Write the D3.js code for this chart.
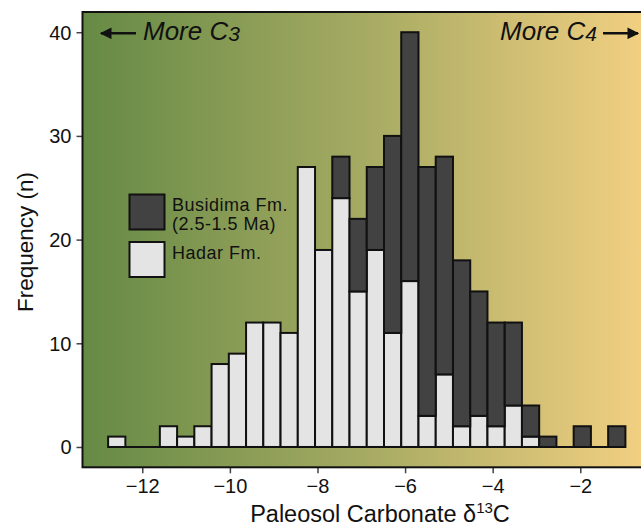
<!DOCTYPE html>
<html><head><meta charset="utf-8">
<script src="https://cdn.jsdelivr.net/npm/d3@7"></script>
<style>
body{margin:0;background:#fff}
svg{display:block}
text{font-family:"Liberation Sans",Arial,Helvetica,sans-serif;fill:#111}
</style>
</head><body>
<svg id="c" width="641" height="525"></svg>
<script>
// ---- data ----
const binLow = -12.78, binHigh = -0.97, binCount = 30;
const hadar    = [1,0,0,2,1,2,8,9,12,12,11,27,19,24,15,19,11,16,3,7,2,3,2,4,1,0,0,0,0,0];
const busidima = [0,0,0,0,0,0,0,0,0,0,0,0,0,4,7,8,19,24,24,21,16,12,10,8,3,1,0,2,0,2];
const xTicks = [-12,-10,-8,-6,-4,-2];
const yTicks = [0,10,20,30,40];
const seriesNames = ["Busidima Fm.","Hadar Fm."];
const seriesSub = ["(2.5-1.5 Ma)",""];
const seriesColors = ["#424242","#e4e4e4"];

// ---- layout ----
const svg = d3.select("#c");
const P = {left:82.5, top:12, right:660, bottom:467.3};
const x = d3.scaleLinear().domain([-13.365,-0.18]).range([P.left,P.right]);
const y = d3.scaleLinear().domain([-1.96,41.95]).range([P.bottom,P.top]);

// background gradient
const defs = svg.append("defs");
const g = defs.append("linearGradient").attr("id","bg")
  .attr("gradientUnits","userSpaceOnUse")
  .attr("x1",P.left).attr("x2",641).attr("y1",0).attr("y2",0);
g.append("stop").attr("offset","0%").attr("stop-color","#658a45");
g.append("stop").attr("offset","50%").attr("stop-color","#a5aa62");
g.append("stop").attr("offset","100%").attr("stop-color","#f1cf81");

svg.append("rect").attr("x",P.left).attr("y",P.top)
  .attr("width",P.right-P.left).attr("height",P.bottom-P.top)
  .attr("fill","url(#bg)");

// bins
const bw = (binHigh-binLow)/binCount;
const bins = hadar.map((h,i)=>({x0:binLow+i*bw, x1:binLow+(i+1)*bw, h:h, b:busidima[i]}));

const barG = svg.append("g").attr("stroke","#111").attr("stroke-width",2);
// baseline (zero-height bins)
barG.append("line").attr("x1",x(binLow)).attr("x2",x(binHigh))
  .attr("y1",y(0)).attr("y2",y(0));
barG.selectAll("rect.h").data(bins.filter(d=>d.h>0)).join("rect")
  .attr("class","h")
  .attr("x",d=>x(d.x0)).attr("width",d=>x(d.x1)-x(d.x0))
  .attr("y",d=>y(d.h)).attr("height",d=>y(0)-y(d.h))
  .attr("fill",seriesColors[1]);
barG.selectAll("rect.b").data(bins.filter(d=>d.b>0)).join("rect")
  .attr("class","b")
  .attr("x",d=>x(d.x0)).attr("width",d=>x(d.x1)-x(d.x0))
  .attr("y",d=>y(d.h+d.b)).attr("height",d=>y(d.h)-y(d.h+d.b))
  .attr("fill",seriesColors[0]);

// axes
const xa = svg.append("g").attr("transform",`translate(0,${P.bottom})`)
  .call(d3.axisBottom(x).tickValues(xTicks).tickSize(6).tickPadding(6));
const ya = svg.append("g").attr("transform",`translate(${P.left},0)`)
  .call(d3.axisLeft(y).tickValues(yTicks).tickSize(6).tickPadding(5));
[xa,ya].forEach(a=>{
  a.select(".domain").remove();
  a.selectAll(".tick line").attr("stroke","#444").attr("stroke-width",1.5);
  a.selectAll(".tick text").attr("font-size",20).attr("fill","#111")
    .attr("font-family","'Liberation Sans',Arial,sans-serif");
});
ya.selectAll(".tick text").attr("dy","0.35em");

// frame
svg.append("rect").attr("x",P.left).attr("y",P.top)
  .attr("width",P.right-P.left).attr("height",P.bottom-P.top)
  .attr("fill","none").attr("stroke","#111").attr("stroke-width",2);

// axis titles
const xt = svg.append("text").attr("x",380).attr("y",521.5)
  .attr("text-anchor","middle").attr("font-size",23.5);
xt.append("tspan").text("Paleosol Carbonate δ");
xt.append("tspan").text("13").attr("font-size",15).attr("dy",-9);
xt.append("tspan").text("C").attr("dy",9);

svg.append("text").attr("transform","translate(33,242) rotate(-90)")
  .attr("text-anchor","middle").attr("font-size",22.5).text("Frequency (n)");

// legend
const lg = svg.append("g");
[0,1].forEach(i=>{
  const yy = 194.5 + i*47.5;
  lg.append("rect").attr("x",129.5).attr("y",yy).attr("width",35).attr("height",35)
    .attr("fill",seriesColors[i]).attr("stroke","#111").attr("stroke-width",2);
  lg.append("text").attr("x",172).attr("y",i===0?yy+16.5:259).attr("font-size",18)
    .attr("letter-spacing",0.5).text(seriesNames[i]);
  if(seriesSub[i]) lg.append("text").attr("x",172).attr("y",yy+35.5).attr("font-size",18)
    .attr("letter-spacing",0.5).text(seriesSub[i]);
});

// annotations
defs.append("marker").attr("id","ah").attr("viewBox","0 0 10 10")
  .attr("refX",9).attr("refY",5).attr("markerWidth",4.5).attr("markerHeight",4.5)
  .attr("markerUnits","strokeWidth").attr("orient","auto")
  .append("path").attr("d","M0,0 L10,5 L0,10 z").attr("fill","#111");

svg.append("line").attr("x1",136).attr("x2",101).attr("y1",33.3).attr("y2",33.3)
  .attr("stroke","#111").attr("stroke-width",2.6).attr("marker-end","url(#ah)");
svg.append("line").attr("x1",603).attr("x2",638).attr("y1",33.3).attr("y2",33.3)
  .attr("stroke","#111").attr("stroke-width",2.6).attr("marker-end","url(#ah)");

const t1 = svg.append("text").attr("x",143).attr("y",40).attr("font-size",26)
  .attr("font-style","italic");
t1.append("tspan").text("More C");
t1.append("tspan").text("3").attr("font-size",21).attr("dy",1);

const t2 = svg.append("text").attr("x",597).attr("y",40).attr("font-size",26)
  .attr("font-style","italic").attr("text-anchor","end");
t2.append("tspan").text("More C");
t2.append("tspan").text("4").attr("font-size",21).attr("dy",1);
</script>
</body></html>
